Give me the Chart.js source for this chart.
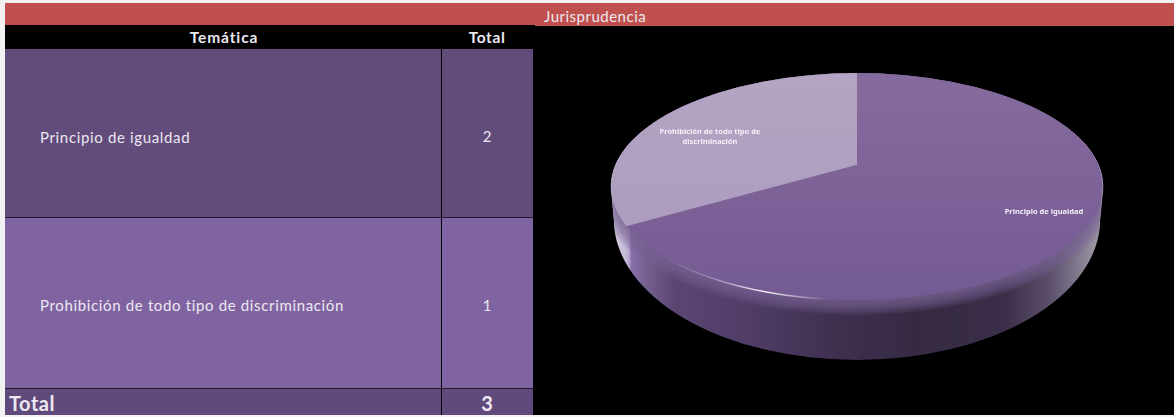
<!DOCTYPE html>
<html lang="es">
<head>
<meta charset="utf-8">
<script src="https://cdn.jsdelivr.net/npm/chart.js@4"></script>
<style>
html,body{margin:0;padding:0;width:1174px;height:417px;overflow:hidden;background:#f2f2f2;font-family:Lato,sans-serif;color:#ece8f0}
.box{position:absolute;box-sizing:border-box}
.txt{position:absolute;white-space:nowrap;line-height:1}
canvas{position:absolute;left:535px;top:26px}
</style>
</head>
<body>
<div id="sheet"></div>
<canvas id="c" width="639" height="389"></canvas>
<script>
const title = "Jurisprudencia";
const headers = ["Temática", "Total"];
const categories = ["Principio de igualdad", "Prohibición de todo tipo de discriminación"];
const values = [2, 1];
const totalLabel = "Total";
const totalValue = 3;
const pieLabelLines = [["Principio de igualdad"], ["Prohibición de todo tipo de", "discriminación"]];

const sheet = document.getElementById('sheet');
function box(x, y, w, h, c) {
  const d = document.createElement('div'); d.className = 'box';
  d.style.cssText = `left:${x}px;top:${y}px;width:${w}px;height:${h}px;background:${c}`;
  sheet.appendChild(d);
}
function text(s, x, cy, size, bold, center, sp) {
  const d = document.createElement('div'); d.className = 'txt'; d.textContent = s;
  d.style.cssText = `left:${x}px;top:${cy - size / 2}px;font-size:${size}px;font-weight:${bold ? 700 : 400};letter-spacing:${sp || 0}px;` +
    (center ? 'transform:translateX(-50%);' : '');
  sheet.appendChild(d);
}
box(5, 3, 1169, 23, '#c0504d');
box(5, 25, 530, 25, '#000');
box(535, 26, 639, 389, '#000');
box(5, 49, 436, 168, '#614c7b');
box(442, 49, 91, 168, '#614c7b');
box(5, 218, 436, 170, '#8064a2');
box(442, 218, 91, 170, '#8064a2');
box(5, 389, 436, 26, '#604a7b');
box(442, 389, 91, 26, '#604a7b');
box(441, 49, 1, 366, '#000');
box(533, 49, 2, 366, '#000');
box(5, 217, 528, 1, '#221a2c');
box(5, 388, 528, 1, '#221a2c');
text(title, 544, 16, 15, false, false, 0.5);
text(headers[0], 224, 38, 15.5, true, true, 0.9);
text(headers[1], 487, 38, 15.5, true, true, 0.6);
text(categories[0], 40, 137, 15, false, false, 0.65);
text(categories[1], 40, 305, 15, false, false, 0.65);
text(String(values[0]), 487, 136, 15, false, true);
text(String(values[1]), 487, 305, 15, false, true);
text(totalLabel, 9, 403, 20, true, false, 0.5);
text(String(totalValue), 487, 403, 20, true, true);

// page-to-canvas geometry of the tilted disc
const OX = 535, OY = 26;
const top_ = {x: 857 - OX, y: 186.5 - OY, rx: 246, ry: 113.5};
const bot = {x: 857 - OX, y: 220 - OY, rx: 243, ry: 140};
const apex = {x: 857 - OX, y: 165 - OY};
const SX = 1.7, SY = 0.782;

function ell(ctx, e) { ctx.beginPath(); ctx.ellipse(e.x, e.y, e.rx, e.ry, 0, 0, Math.PI * 2); }
function silhouette(ctx) {
  ctx.beginPath();
  ctx.ellipse(top_.x, top_.y, top_.rx, top_.ry, 0, Math.PI, 0, false);
  ctx.ellipse(bot.x, bot.y, bot.rx, bot.ry, 0, 0, Math.PI, false);
  ctx.closePath();
}
const pie3d = {
  id: 'pie3d',
  beforeDatasetsDraw(chart) {
    const ctx = chart.ctx;
    ctx.save();
    // side wall
    const g = ctx.createLinearGradient(top_.x - top_.rx, 0, top_.x + top_.rx, 0);
    [[0, '#dcd6e6'], [0.03, '#c6bbd8'], [0.037, '#b5a6cd'], [0.041, '#8a70ab'], [0.07, '#76608f'], [0.13, '#5b4672'],
     [0.25, '#523f69'], [0.45, '#3f3050'], [0.62, '#352a42'], [0.8, '#3a2e48'], [0.89, '#5a4e6a'], [0.95, '#827a8e'], [1, '#a6a2ae']]
      .forEach(s => g.addColorStop(s[0], s[1]));
    silhouette(ctx); ctx.fillStyle = g; ctx.fill();
    // soft bevel just under the top face
    ctx.save();
    silhouette(ctx); ctx.clip();
    for (let w = 30; w > 0; w -= 3) {
      ell(ctx, top_); ctx.lineWidth = w; ctx.strokeStyle = 'rgba(123,96,152,0.14)'; ctx.stroke();
    }
    ctx.restore();
    // top face: native arcs seen through the tilt, trimmed to the rim
    ctx.save();
    ell(ctx, top_); ctx.clip();
    const a = chart.getDatasetMeta(0).data[0];
    ctx.translate(apex.x, apex.y); ctx.scale(SX, SY); ctx.translate(-a.x, -a.y);
  },
  afterDatasetsDraw(chart) {
    const ctx = chart.ctx;
    ctx.restore();
    // glint along the front edge
    const s = ctx.createLinearGradient(665 - OX, 0, 830 - OX, 0);
    s.addColorStop(0, 'rgba(255,255,255,0)');
    s.addColorStop(0.3, 'rgba(235,225,245,0.35)');
    s.addColorStop(0.6, 'rgba(255,255,255,0.95)');
    s.addColorStop(0.78, 'rgba(255,255,255,0.5)');
    s.addColorStop(1, 'rgba(255,255,255,0)');
    ctx.beginPath(); ctx.ellipse(top_.x, top_.y, top_.rx, top_.ry, 0, 0.3, Math.PI - 0.2, false);
    ctx.strokeStyle = s; ctx.lineWidth = 1.6; ctx.stroke();
    // pale outer edge on both flanks
    const e = ctx.createLinearGradient(0, 120 - OY, 0, 250 - OY);
    e.addColorStop(0, 'rgba(220,215,230,0)');
    e.addColorStop(0.55, 'rgba(220,215,230,0.4)');
    e.addColorStop(1, 'rgba(220,215,230,0)');
    ctx.strokeStyle = e; ctx.lineWidth = 1;
    silhouette(ctx); ctx.stroke();
    ctx.restore();
  },
  afterDraw(chart) {
    const ctx = chart.ctx;
    ctx.save();
    ctx.fillStyle = '#f4f0fa';
    ctx.font = 'bold 7.5px "Noto Sans"';
    ctx.textAlign = 'center'; ctx.textBaseline = 'middle';
    const spots = [[1044 - OX, 212 - OY], [710 - OX, 131.5 - OY]];
    pieLabelLines.forEach((lines, i) => lines.forEach((l, j) => {
      ctx.fillText(l, spots[i][0], spots[i][1] + j * 10.5);
    }));
    ctx.restore();
  }
};
function shade(ctx, chart, c1, c2) {
  const ca = chart.chartArea;
  if (!ca) return c1;
  const g = ctx.createLinearGradient(0, ca.top, 0, ca.bottom);
  g.addColorStop(0, c1); g.addColorStop(1, c2);
  return g;
}
new Chart(document.getElementById('c').getContext('2d'), {
  type: 'pie',
  data: {
    labels: categories,
    datasets: [{
      data: values,
      clip: false,
      borderWidth: 0,
      backgroundColor: c => c.dataIndex === 0
        ? shade(c.chart.ctx, c.chart, '#8a6fa0', '#735992')
        : shade(c.chart.ctx, c.chart, '#b6a8c4', '#a997bd')
    }]
  },
  options: {
    responsive: false,
    animation: false,
    rotation: 0,
    layout: {padding: 0},
    plugins: {legend: {display: false}, title: {display: false}, tooltip: {enabled: false}}
  },
  plugins: [pie3d]
});
</script>
</body>
</html>
